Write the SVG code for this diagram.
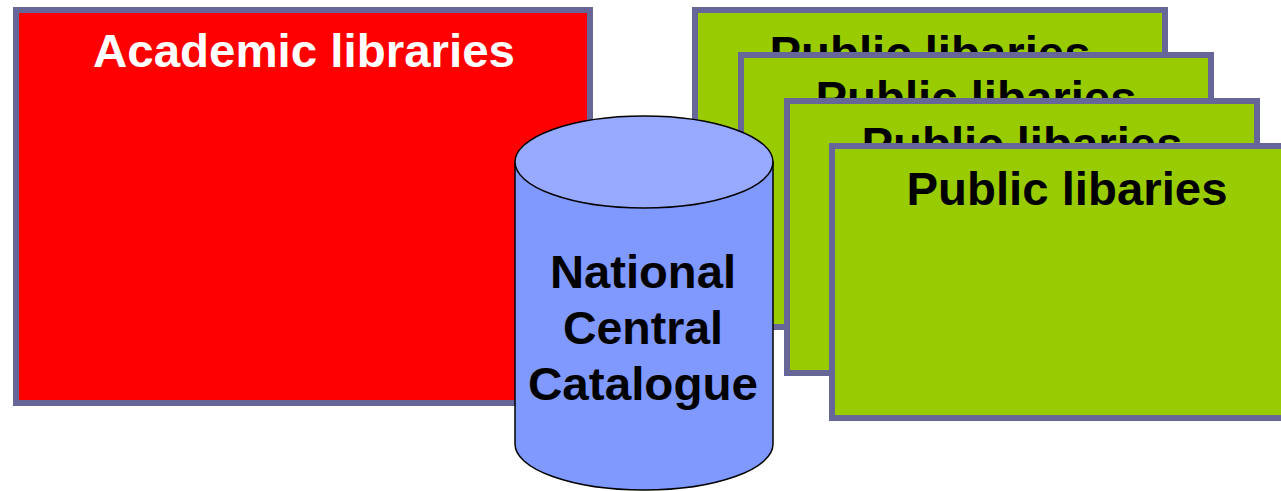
<svg xmlns="http://www.w3.org/2000/svg" width="1281" height="491" viewBox="0 0 1281 491">
<style>
.box{stroke:#666699;stroke-width:6}
.red{fill:#FF0000}
.green{fill:#99CC00}
.t{font-family:"Liberation Sans",Arial,sans-serif;font-weight:bold;font-size:47px;text-anchor:middle}
.w{fill:#FFFFFF}
.k{fill:#000000}
.cyl{stroke:#000000;stroke-width:1.5}
</style>
<defs>
<clipPath id="c1"><rect x="692" y="7" width="476" height="45"/></clipPath>
<clipPath id="c2"><rect x="738" y="52" width="476" height="46"/></clipPath>
<clipPath id="c3"><rect x="784" y="98" width="476" height="45"/></clipPath>
</defs>
<rect width="1281" height="491" fill="#FFFFFF"/>
<g id="academic">
<rect class="box red" x="16" y="10" width="574" height="393"/>
<text class="t w" x="304" y="67" textLength="422" lengthAdjust="spacingAndGlyphs">Academic libraries</text>
</g>
<g id="public1">
<rect class="box green" x="695" y="10" width="470" height="272"/>
<text class="t k" x="930" y="69" textLength="321" lengthAdjust="spacingAndGlyphs" clip-path="url(#c1)">Public libaries</text>
</g>
<g id="public2">
<rect class="box green" x="741" y="55" width="470" height="272"/>
<text class="t k" x="976" y="114" textLength="321" lengthAdjust="spacingAndGlyphs" clip-path="url(#c2)">Public libaries</text>
</g>
<g id="public3">
<rect class="box green" x="787" y="101" width="470" height="272"/>
<text class="t k" x="1022" y="160" textLength="321" lengthAdjust="spacingAndGlyphs" clip-path="url(#c3)">Public libaries</text>
</g>
<g id="public4">
<rect class="box green" x="832" y="146" width="470" height="272"/>
<text class="t k" x="1067" y="205" textLength="321" lengthAdjust="spacingAndGlyphs">Public libaries</text>
</g>
<g id="catalogue">
<path class="cyl" fill="#7F99FF" d="M515,162 L515,444 A129,46 0 0 0 773,444 L773,162 Z"/>
<ellipse class="cyl" fill="#97AAFF" cx="644" cy="162" rx="129" ry="46"/>
<text class="t k" x="643" y="288" textLength="186" lengthAdjust="spacingAndGlyphs">National</text>
<text class="t k" x="643" y="344" textLength="160" lengthAdjust="spacingAndGlyphs">Central</text>
<text class="t k" x="643" y="400" textLength="230" lengthAdjust="spacingAndGlyphs">Catalogue</text>
</g>
<g id="connectors"/>
</svg>
